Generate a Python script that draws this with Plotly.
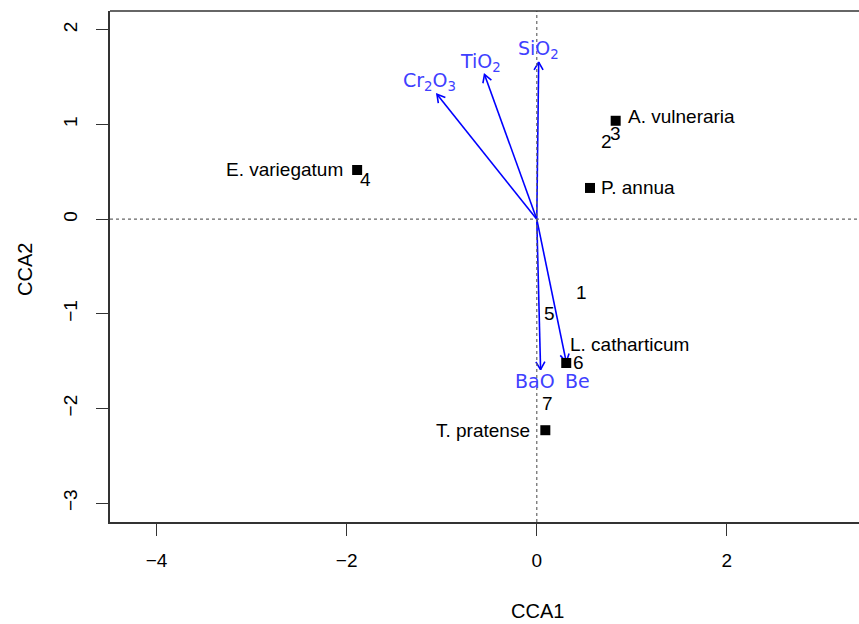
import math
import plotly.graph_objects as go

# Species scores
species = ["A. vulneraria", "E. variegatum", "P. annua", "L. catharticum", "T. pratense"]
sp_x = [0.83, -1.89, 0.56, 0.31, 0.09]
sp_y = [1.04, 0.52, 0.33, -1.52, -2.23]

# Site scores
sites = ["1", "2", "3", "4", "5", "6", "7"]
site_x = [0.47, 0.73, 0.83, -1.80, 0.13, 0.44, 0.11]
site_y = [-0.77, 0.82, 0.91, 0.42, -1.00, -1.51, -1.95]

# Environmental biplot arrows
env = ["SiO<sub>2</sub>", "TiO<sub>2</sub>", "Cr<sub>2</sub>O<sub>3</sub>", "BaO", "Be"]
env_x = [0.02, -0.55, -1.05, 0.04, 0.31]
env_y = [1.66, 1.53, 1.32, -1.59, -1.51]
env_lab_x = [0.02, -0.59, -1.13, -0.02, 0.43]
env_lab_y = [1.79, 1.66, 1.46, -1.71, -1.71]

xticks = [-4, -2, 0, 2]
yticks = [-3, -2, -1, 0, 1, 2]

XR = [-4.49, 3.39]
YR = [-3.20, 2.20]
W, H = 859, 624
ML, MR, MT, MB = 110, 0, 11, 102
pw, ph = W - ML - MR, H - MT - MB
sx = pw / (XR[1] - XR[0])
sy = ph / (YR[1] - YR[0])

BLUE = "#0000ff"
BLUE_TXT = "#4040ff"
FONT = "Liberation Sans, Arial"

fig = go.Figure()

# reference dotted lines
fig.add_shape(type="line", x0=XR[0], x1=XR[1], y0=0, y1=0, xref="x", yref="y",
              line=dict(color="#666666", width=1.2, dash="dot"))
fig.add_shape(type="line", x0=0, x1=0, y0=YR[0], y1=YR[1], xref="x", yref="y",
              line=dict(color="#666666", width=1.2, dash="dot"))

# arrows
for ex, ey in zip(env_x, env_y):
    fig.add_trace(go.Scatter(x=[0, ex], y=[0, ey], mode="lines",
                             line=dict(color=BLUE, width=1.6), hoverinfo="skip",
                             showlegend=False))
    dx, dy = ex * sx, ey * sy
    ang = math.atan2(dy, dx)
    L = 9
    hx, hy = [], []
    for s in (1, -1):
        a = ang + math.pi - s * math.radians(30)
        hx.append(ex + L * math.cos(a) / sx)
        hy.append(ey + L * math.sin(a) / sy)
    fig.add_trace(go.Scatter(x=[hx[0], ex, hx[1]], y=[hy[0], ey, hy[1]], mode="lines",
                             line=dict(color=BLUE, width=1.6), hoverinfo="skip",
                             showlegend=False))

for lab, lx, ly in zip(env, env_lab_x, env_lab_y):
    fig.add_annotation(x=lx, y=ly, text=lab, showarrow=False,
                       font=dict(family="DejaVu Sans", size=19, color=BLUE_TXT))

# species squares
fig.add_trace(go.Scatter(x=sp_x, y=sp_y, mode="markers",
                         marker=dict(symbol="square", size=10, color="black"),
                         hoverinfo="skip", showlegend=False))

sp_shift = {
    "A. vulneraria": ("left", 10, 4),
    "E. variegatum": ("right", -12, 0),
    "P. annua": ("left", 9, 0),
    "L. catharticum": ("left", 2, 19),
    "T. pratense": ("right", -13, 0),
}
for name, x, y in zip(species, sp_x, sp_y):
    anc, xs, ys = sp_shift[name]
    fig.add_annotation(x=x, y=y, text=name, showarrow=False, xanchor=anc,
                       xshift=xs, yshift=ys,
                       font=dict(family=FONT, size=19, color="black"))

for s, x, y in zip(sites, site_x, site_y):
    fig.add_annotation(x=x, y=y, text=s, showarrow=False,
                       font=dict(family=FONT, size=19, color="black"))

# top border of box
fig.add_shape(type="line", xref="paper", yref="paper", x0=0, x1=1, y0=1, y1=1,
              line=dict(color="#333333", width=1.5))

# axis titles
fig.add_annotation(xref="paper", yref="paper", x=(537 - ML) / pw, y=0, yshift=-89,
                   yanchor="middle", xanchor="center",
                   text="CCA1", showarrow=False,
                   font=dict(family=FONT, size=20, color="black"))
fig.add_annotation(xref="paper", yref="paper", x=0, xshift=-85,
                   y=(MT + ph - 270) / ph, xanchor="center", yanchor="middle",
                   text="CCA2", showarrow=False, textangle=-90,
                   font=dict(family=FONT, size=20, color="black"))

fig.update_layout(
    width=W, height=H,
    margin=dict(l=ML, r=MR, t=MT, b=MB),
    paper_bgcolor="white", plot_bgcolor="white",
    showlegend=False,
    xaxis=dict(range=XR, tickvals=xticks, ticktext=["\u22124", "\u22122", "0", "2"],
               showgrid=False, zeroline=False, showline=True, linecolor="#333333",
               linewidth=1.5, ticks="outside", ticklen=12, tickcolor="#333333",
               ticklabelstandoff=8,
               tickfont=dict(family=FONT, size=19, color="black")),
    yaxis=dict(range=YR, tickvals=yticks,
               ticktext=["\u22123", "\u22122", "\u22121", "0", "1", "2"],
               tickangle=-90,
               showgrid=False, zeroline=False, showline=True, linecolor="#333333",
               linewidth=1.5, ticks="outside", ticklen=12, tickcolor="#333333",
               ticklabelstandoff=12,
               tickfont=dict(family=FONT, size=19, color="black")),
)

fig.write_html("out.html")
